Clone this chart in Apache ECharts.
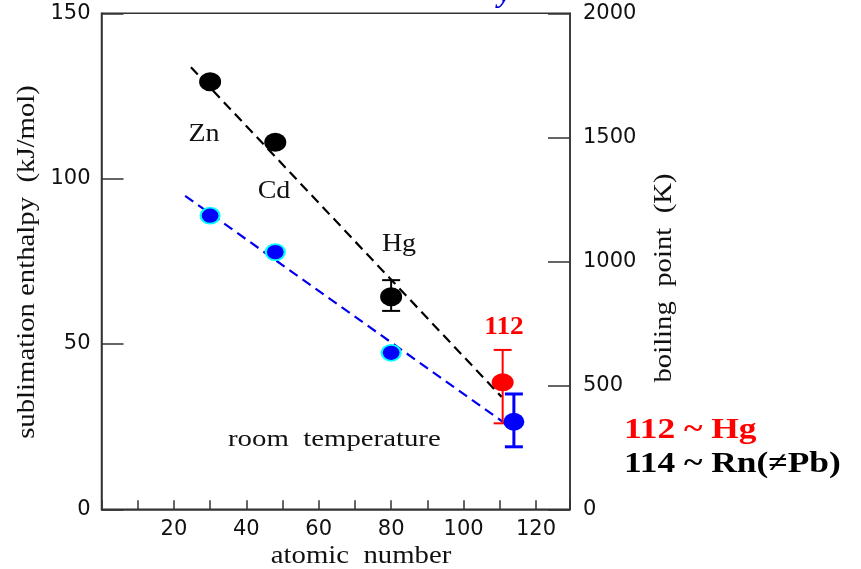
<!DOCTYPE html>
<html>
<head>
<meta charset="utf-8">
<script src="https://cdn.jsdelivr.net/npm/echarts@6/dist/echarts.min.js"></script>
<style>html,body{margin:0;padding:0;background:#fff;}#c{width:861px;height:569px;}</style>
</head>
<body>
<div id="c"></div>
<script>
// ---- data ----
const elementsZ = [30, 48, 80];                 // Zn, Cd, Hg atomic numbers
const elementNames = ['Zn', 'Cd', 'Hg'];
const enthalpyKJ = [129.3, 111, 64.3];          // sublimation enthalpy (left axis)
const boilingK = [1184, 1037, 631];             // boiling point (right axis)
const hgErrorLowHigh = [60, 69.3];
const e112 = [110.8, 38.4];                     // element 112: Z, enthalpy
const e112Error = [26, 48.2];
const e114 = [113.9, 353];                      // element 114: Z, boiling point
const e114Error = [252, 465];
const enthalpyTrend = [[24.7, 133.7], [110.5, 34.0]];
const boilingTrend = [[23.1, 1264], [110.8, 353]];
const xTickLabels = [20, 40, 60, 80, 100, 120];
const leftTicks = [0, 50, 100, 150];
const rightTicks = [0, 500, 1000, 1500, 2000];

const chart = echarts.init(document.getElementById('c'), null, {renderer: 'canvas'});

const axisCol = '#333';
const tickFont = 'DejaVu Sans';
const serif = '"Liberation Serif", "Times New Roman", serif';

function errRender(color, width) {
  return function (params, api) {
    const x = api.value(0), lo = api.value(1), hi = api.value(2);
    const pLo = api.coord([x, lo]);
    const pHi = api.coord([x, hi]);
    const cap = 9;
    const st = {stroke: color, lineWidth: width};
    return {type: 'group', children: [
      {type: 'line', shape: {x1: pLo[0], y1: pLo[1], x2: pHi[0], y2: pHi[1]}, style: st},
      {type: 'line', shape: {x1: pLo[0] - cap, y1: pLo[1], x2: pLo[0] + cap, y2: pLo[1]}, style: st},
      {type: 'line', shape: {x1: pHi[0] - cap, y1: pHi[1], x2: pHi[0] + cap, y2: pHi[1]}, style: st}
    ]};
  };
}

const option = {
  animation: false,
  backgroundColor: '#fff',
  grid: {left: 101.5, right: 291, top: 13.3, bottom: 59.7, show: true, borderColor: axisCol, borderWidth: 1.5, backgroundColor: 'transparent'},
  xAxis: {
    type: 'value', min: 0, max: 129.4, interval: 10,
    axisLine: {show: true, lineStyle: {color: axisCol, width: 1.5}},
    axisTick: {show: true, inside: true, length: 9, lineStyle: {color: axisCol, width: 1.5}},
    axisLabel: {
      fontSize: 21, fontFamily: tickFont, color: '#111', margin: 10,
      formatter: v => (xTickLabels.indexOf(v) >= 0 ? String(v) : '')
    },
    splitLine: {show: false}
  },
  yAxis: [
    {
      type: 'value', position: 'left', min: leftTicks[0], max: leftTicks[leftTicks.length - 1], interval: 50,
      axisLine: {show: true, lineStyle: {color: axisCol, width: 1.5}},
      axisTick: {show: true, inside: true, length: 22, lineStyle: {color: axisCol, width: 1.5}},
      axisLabel: {fontSize: 21, fontFamily: tickFont, color: '#111', margin: 11, formatter: v => String(v)},
      splitLine: {show: false}
    },
    {
      type: 'value', position: 'right', min: rightTicks[0], max: rightTicks[rightTicks.length - 1], interval: 500,
      axisLine: {show: true, lineStyle: {color: axisCol, width: 1.5}},
      axisTick: {show: true, inside: true, length: 22, lineStyle: {color: axisCol, width: 1.5}},
      axisLabel: {fontSize: 21, fontFamily: tickFont, color: '#111', margin: 13, formatter: v => String(v)},
      splitLine: {show: false}
    }
  ],
  series: [
    {type: 'line', data: enthalpyTrend, yAxisIndex: 0, symbol: 'none', z: 1,
     lineStyle: {color: '#000', width: 2.2, type: [10, 6]}},
    {type: 'line', data: boilingTrend, yAxisIndex: 1, symbol: 'none', z: 1,
     lineStyle: {color: '#0000ee', width: 2.2, type: [10, 6]}},
    {type: 'custom', yAxisIndex: 0, z: 2, renderItem: errRender('#000', 2),
     data: [[elementsZ[2], hgErrorLowHigh[0], hgErrorLowHigh[1]]]},
    {type: 'custom', yAxisIndex: 0, z: 2, renderItem: errRender('#ff0000', 2),
     data: [[e112[0], e112Error[0], e112Error[1]]]},
    {type: 'custom', yAxisIndex: 1, z: 2, renderItem: errRender('#0000ff', 3),
     data: [[e114[0], e114Error[0], e114Error[1]]]},
    {type: 'scatter', yAxisIndex: 0, z: 3, symbol: 'circle', symbolSize: [22, 19],
     itemStyle: {color: '#000', opacity: 1},
     data: elementsZ.map((z, i) => [z, enthalpyKJ[i]])},
    {type: 'scatter', yAxisIndex: 1, z: 3, symbol: 'circle', symbolSize: [19, 16],
     itemStyle: {color: '#0000ff', borderColor: '#00ffff', borderWidth: 2, opacity: 1},
     data: elementsZ.map((z, i) => [z, boilingK[i]])},
    {type: 'scatter', yAxisIndex: 0, z: 4, symbol: 'circle', symbolSize: [22, 18],
     itemStyle: {color: '#ff0000', opacity: 1}, data: [e112]},
    {type: 'scatter', yAxisIndex: 1, z: 4, symbol: 'circle', symbolSize: [21, 18],
     itemStyle: {color: '#0000ff', opacity: 1}, data: [e114]}
  ],
  graphic: [
    {type: 'text', x: 204, y: 147, scaleX: 1.12, style: {text: elementNames[0], font: '25px ' + serif, fill: '#111', textAlign: 'center', textVerticalAlign: 'bottom'}},
    {type: 'text', x: 274, y: 204, scaleX: 1.12, style: {text: elementNames[1], font: '25px ' + serif, fill: '#111', textAlign: 'center', textVerticalAlign: 'bottom'}},
    {type: 'text', x: 399, y: 257, scaleX: 1.12, style: {text: elementNames[2], font: '25px ' + serif, fill: '#111', textAlign: 'center', textVerticalAlign: 'bottom'}},
    {type: 'text', x: 504, y: 340, scaleX: 1.05, style: {text: '112', font: 'bold 26px ' + serif, fill: '#ff0000', textAlign: 'center', textVerticalAlign: 'bottom'}},
    {type: 'text', x: 228, y: 452, scaleX: 1.2, style: {text: 'room  temperature', font: '24px ' + serif, fill: '#111', textAlign: 'left', textVerticalAlign: 'bottom'}},
    {type: 'text', x: 624, y: 430, scaleX: 1.18, style: {text: '112 ~ Hg', font: 'bold 30px ' + serif, fill: '#ff0000', textAlign: 'left', textVerticalAlign: 'middle'}},
    {type: 'text', x: 624, y: 464, scaleX: 1.18, style: {text: '114 ~ Rn(≠Pb)', font: 'bold 30px ' + serif, fill: '#000', textAlign: 'left', textVerticalAlign: 'middle'}},
    {type: 'text', x: 27, y: 262, rotation: Math.PI / 2, scaleX: 1.15, style: {text: 'sublimation enthalpy  (kJ/mol)', font: '25px ' + serif, fill: '#111', textAlign: 'center', textVerticalAlign: 'middle'}},
    {type: 'text', x: 664, y: 278, rotation: Math.PI / 2, scaleX: 1.15, style: {text: 'boiling  point  (K)', font: '25px ' + serif, fill: '#111', textAlign: 'center', textVerticalAlign: 'middle'}},
    {type: 'text', x: 361, y: 556, scaleX: 1.15, style: {text: 'atomic  number', font: '25px ' + serif, fill: '#111', textAlign: 'center', textVerticalAlign: 'middle'}},
    {type: 'text', x: 505, y: 9, style: {text: 'y', font: 'italic bold 30px ' + serif, fill: '#0000dd', textAlign: 'center', textVerticalAlign: 'bottom'}}
  ]
};
chart.setOption(option);
</script>
</body>
</html>
